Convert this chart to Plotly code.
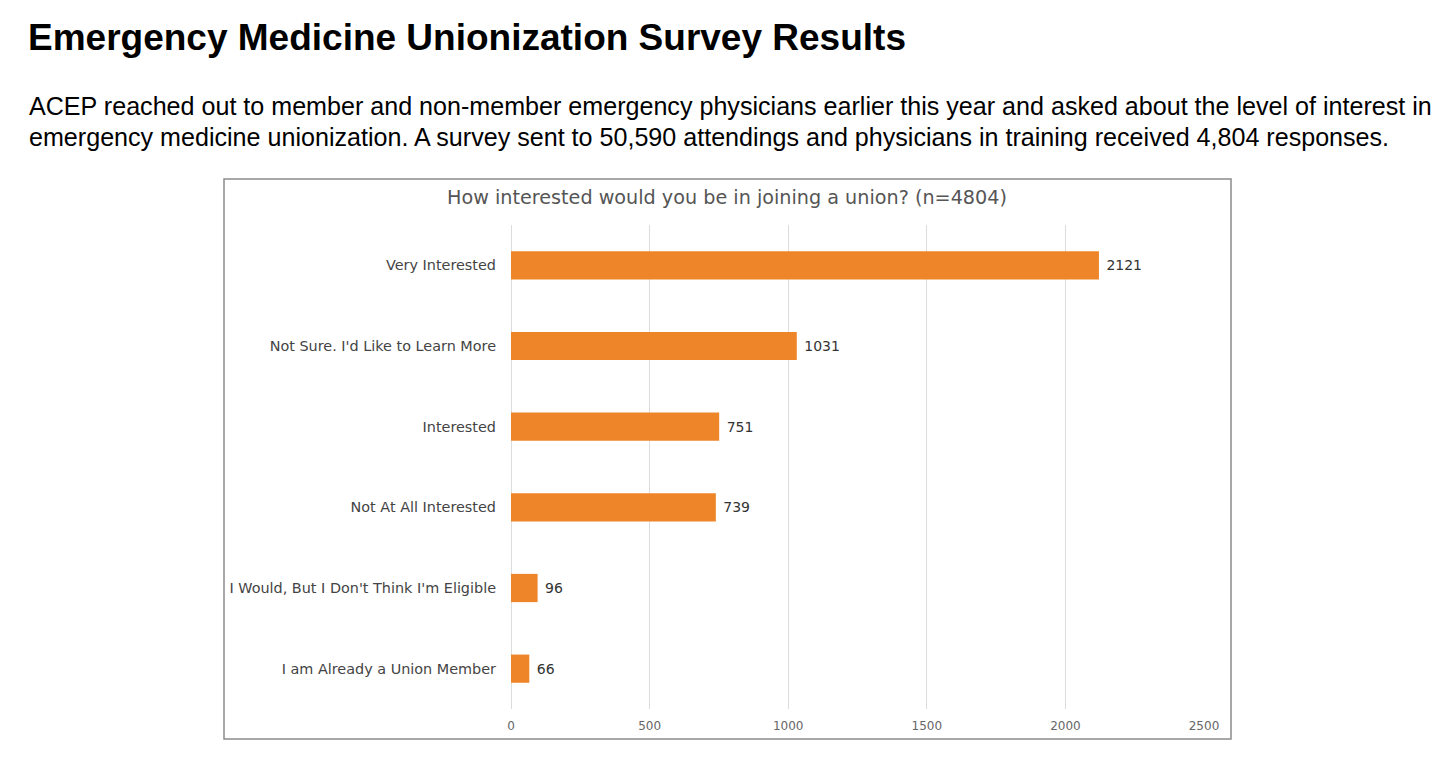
import plotly.graph_objects as go

categories = [
    "Very Interested",
    "Not Sure. I'd Like to Learn More",
    "Interested",
    "Not At All Interested",
    "I Would, But I Don't Think I'm Eligible",
    "I am Already a Union Member",
]
values = [2121, 1031, 751, 739, 96, 66]
x_ticks = [0, 500, 1000, 1500, 2000, 2500]

page_title = "Emergency Medicine Unionization Survey Results"
subtitle_lines = [
    "ACEP reached out to member and non-member emergency physicians earlier this year and asked about the level of interest in",
    "emergency medicine unionization. A survey sent to 50,590 attendings and physicians in training received 4,804 responses.",
]
chart_title = "How interested would you be in joining a union? (n=4804)"

W, H = 1456, 772
def px(x):
    return x / W
def py(y):
    return 1 - y / H

chart_font = "DejaVu Sans"
page_font = "Liberation Sans"

fig = go.Figure(
    go.Bar(
        x=values,
        y=categories,
        orientation="h",
        marker=dict(color="#EE8629", line=dict(width=0)),
        text=["\u00a0" + str(v) for v in values],
        textposition="outside",
        textfont=dict(family=chart_font, size=14, color="#333333"),
        cliponaxis=False,
        hoverinfo="skip",
    )
)

fig.update_layout(
    width=W,
    height=H,
    autosize=False,
    margin=dict(l=0, r=0, t=0, b=0, pad=0, autoexpand=False),
    paper_bgcolor="white",
    plot_bgcolor="white",
    showlegend=False,
    bargap=0.65,
    xaxis=dict(
        domain=[px(511), px(1204)],
        range=[0, 2500],
        tickvals=x_ticks,
        ticktext=[str(t) for t in x_ticks],
        showgrid=True,
        gridcolor="#dcdcdc",
        gridwidth=1,
        zeroline=True,
        zerolinecolor="#dcdcdc",
        zerolinewidth=1,
        showline=False,
        ticks="",
        ticklabelstandoff=8,
        tickfont=dict(family=chart_font, size=12, color="#666666"),
        automargin=False,
        fixedrange=True,
    ),
    yaxis=dict(
        domain=[py(709), py(225)],
        autorange="reversed",
        showgrid=False,
        zeroline=False,
        showline=False,
        ticks="",
        ticklabelstandoff=14,
        tickfont=dict(family=chart_font, size=14.4, color="#444444"),
        automargin=False,
        fixedrange=True,
    ),
    shapes=[
        dict(
            type="rect", xref="paper", yref="paper",
            x0=px(224), x1=px(1231), y0=py(739), y1=py(179),
            line=dict(color="#8c8c8c", width=1.5),
            fillcolor="rgba(0,0,0,0)",
            layer="below",
        )
    ],
    annotations=[
        dict(
            text=f"<b>{page_title}</b>", xref="paper", yref="paper",
            x=px(26), y=py(38), xanchor="left", yanchor="middle",
            showarrow=False,
            font=dict(family=page_font, size=37, color="#000000"),
        ),
        dict(
            text=subtitle_lines[0], xref="paper", yref="paper",
            x=px(27), y=py(106), xanchor="left", yanchor="middle",
            showarrow=False,
            font=dict(family=page_font, size=25.1, color="#000000"),
        ),
        dict(
            text=subtitle_lines[1], xref="paper", yref="paper",
            x=px(27), y=py(137), xanchor="left", yanchor="middle",
            showarrow=False,
            font=dict(family=page_font, size=25.1, color="#000000"),
        ),
        dict(
            text=chart_title, xref="paper", yref="paper",
            x=px(727), y=py(197), xanchor="center", yanchor="middle",
            showarrow=False,
            font=dict(family=chart_font, size=19.2, color="#555555"),
        ),
    ],
)

fig.write_html(
    "out.html",
    config={"displayModeBar": False, "staticPlot": True},
    post_script="document.body.style.margin='0';document.body.style.overflow='hidden';",
)
